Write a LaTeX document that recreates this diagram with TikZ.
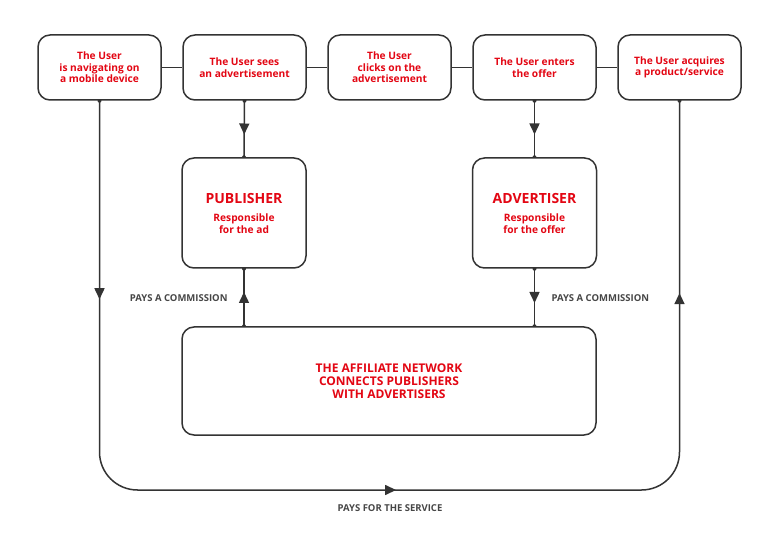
\documentclass[tikz,border=0pt]{standalone}
\usepackage{fontspec}
\setmainfont{Open Sans}
\usetikzlibrary{arrows.meta,positioning,backgrounds,decorations.markings}
\definecolor{adred}{RGB}{227,6,19}
\definecolor{linegray}{RGB}{51,51,51}
\definecolor{labelgray}{RGB}{70,70,70}
\tikzset{%
  stepbox/.style={draw=linegray, line width=1.5pt, rounded corners=12pt, fill=white,
    minimum width=123pt, minimum height=65pt, inner sep=0pt, align=center,
    text=adred, font=\fontsize{10.2}{11.5}\selectfont\bfseries},% user step
  party/.style={stepbox, minimum width=124pt, minimum height=110pt,
    font=\fontsize{10.2}{12}\selectfont\bfseries},% publisher / advertiser
  network/.style={stepbox, minimum width=414pt, minimum height=108pt,
    font=\fontsize{12}{13.2}\selectfont\bfseries},% affiliate network
  flow/.style={draw=linegray, line width=1.5pt},
  midarrow/.style={flow, postaction={decorate}, decoration={markings,
    mark=at position 0.5 with {\arrow[xshift=5.5pt]{Triangle[width=10pt,length=11pt]}}}},
  paylabel/.style={text=labelgray, font=\fontsize{9.5}{11}\selectfont\bfseries},% payment label
  knob/.style={circle, fill=linegray, inner sep=0pt, minimum size=4pt}
}
\newcommand*{\partytitle}[1]{{\fontsize{14}{18}\selectfont #1}}
\begin{document}
\begin{tikzpicture}[x=1pt, y=-1pt]
\useasboundingbox (0,0) rectangle (780,548);
\node[stepbox] (user)     at ( 99.5, 67.5) {The User\\is navigating on\\a mobile device};
\node[stepbox] (sees)     at (244.5, 67.5) {The User sees\\an advertisement};
\node[stepbox] (clicks)   at (389.5, 67.5) {The User\\clicks on the\\advertisement};
\node[stepbox] (enters)   at (534.5, 67.5) {The User enters\\the offer};
\node[stepbox] (acquires) at (679.5, 67.5) {The User acquires\\a product/service};
\node[party] (publisher)  at (244.0, 213.0) {\partytitle{PUBLISHER}\\[6pt]Responsible\\for the ad};
\node[party] (advertiser) at (534.5, 213.0) {\partytitle{ADVERTISER}\\[6pt]Responsible\\for the offer};
\node[network, text depth=0pt] (network) at (389.0, 381.0) {THE AFFILIATE NETWORK\\CONNECTS PUBLISHERS\\WITH ADVERTISERS};
\coordinate (lowleft)  at (user.south |- 0,490);
\coordinate (lowright) at (acquires.south |- 0,490);

\begin{scope}[on background layer]
\draw[flow] (user) -- (sees) -- (clicks) -- (enters) -- (acquires);
\draw[midarrow] (sees.south) -- (publisher.north);
\draw[midarrow] (enters.south) -- (advertiser.north);
\draw[midarrow] (network.north -| publisher.south) -- (publisher.south);
\draw[midarrow] (advertiser.south) -- (network.north -| advertiser.south);
%%%%
\draw[flow, rounded corners=38pt, postaction={decorate}, decoration={markings,
    mark=at position 193pt with {\arrow[xshift=5.5pt]{Triangle[width=10pt,length=11pt]}},
    mark=at position 664pt with {\arrow[xshift=5.5pt]{Triangle[width=10pt,length=11pt]}},
    mark=at position 1128pt with {\arrow[xshift=5.5pt]{Triangle[width=10pt,length=11pt]}}}]
  (user.south) -- (lowleft) -- (lowright) -- (acquires.south);
%%%%
\foreach \k in {user.south, sees.south, enters.south, acquires.south,
  publisher.north, publisher.south, advertiser.north, advertiser.south}
  \node[knob] at (\k) {};
\node[knob] at (network.north -| publisher.south) {};
\node[knob] at (network.north -| advertiser.south) {};
\end{scope}

\node[paylabel, anchor=east] (pubpay) at (231, 298) {PAYS A COMMISSION};
\node[paylabel, anchor=west] (advpay) at (548, 298) {PAYS A COMMISSION};
\node[paylabel] (servicepay) at (390, 508) {PAYS FOR THE SERVICE};
\end{tikzpicture}
\end{document}
